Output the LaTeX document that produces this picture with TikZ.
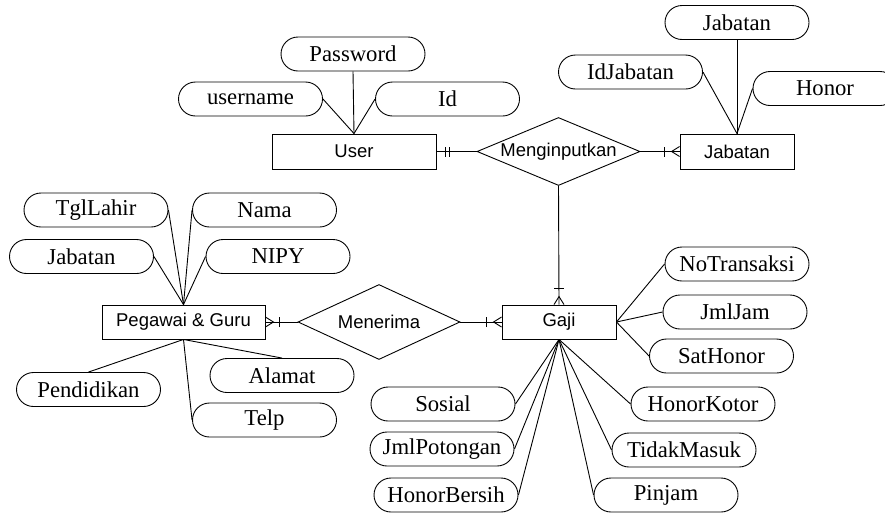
\documentclass[tikz,border=0pt]{standalone}
\usepackage{fontspec}
\setmainfont{Liberation Serif}
\newfontfamily\arialfont{Liberation Sans}
\usetikzlibrary{shapes.geometric}
\begin{document}
\begin{tikzpicture}[x=1pt,y=-1pt,line width=0.9pt,
  ent/.style={draw, minimum width=#1, minimum height=34pt, inner sep=0pt,
    font=\arialfont\fontsize{18.5}{20}\selectfont},
  attr/.style={draw, rounded corners=17pt, minimum width=144pt, minimum height=34pt,
    inner sep=0pt, font=\fontsize{22.7}{24}\selectfont},
  rel/.style={draw, diamond, inner sep=0pt, font=\arialfont\fontsize{18.5}{20}\selectfont},
  mk/.style={line width=0.9pt}]
\useasboundingbox (0,0) rectangle (885,512);
\clip (0,0) rectangle (885,512);
% entities
\node[ent=164pt, minimum height=35pt] (user) at (354,151.5) {User};
\node[ent=114pt, minimum height=35pt] (jabE) at (737,151.5) {Jabatan};
\node[ent=163pt] (peg) at (183.5,322) {Pegawai \& Guru};
\node[ent=114pt] (gaji) at (559,322) {Gaji};
% relationships
\node[rel, aspect=2.4, minimum width=163pt, minimum height=68pt] (mi) at (558.5,151.5) {Menginputkan};
\node[rel, aspect=2.16, minimum width=162pt, minimum height=75pt] (men) at (379,322) {Menerima};
% attributes
\node[attr] (pass) at (353,54) {Password};
\node[attr] (uname) at (250.5,99) {username};
\node[attr] (id) at (447.5,99) {Id};
\node[attr] (jabA) at (737,22.5) {Jabatan};
\node[attr] (idjab) at (630.5,72) {IdJabatan};
\node[attr] (honor) at (825,88.5) {Honor};
\node[attr] (tgl) at (96,210) {TglLahir};
\node[attr] (nama) at (264.5,210) {Nama};
\node[attr] (jab2) at (81.5,256.5) {Jabatan};
\node[attr] (nipy) at (278,256.5) {NIPY};
\node[attr] (pend) at (88.5,389.5) {Pendidikan};
\node[attr] (alamat) at (282,375.5) {Alamat};
\node[attr] (telp) at (264.5,420) {Telp};
\node[attr] (notr) at (737,264) {NoTransaksi};
\node[attr] (jmljam) at (735,312) {JmlJam};
\node[attr] (sathon) at (721.5,356) {SatHonor};
\node[attr] (hkotor) at (703,404) {HonorKotor};
\node[attr] (sosial) at (443,404) {Sosial};
\node[attr] (jmlpot) at (442,449) {JmlPotongan};
\node[attr] (hbersih) at (446,495) {HonorBersih};
\node[attr] (tidak) at (684,450) {TidakMasuk};
\node[attr] (pinjam) at (666,495) {Pinjam};
% attribute links
\draw (uname.east) -- (user.north);
\draw (pass.south) -- (user.north);
\draw (id.west) -- (user.north);
\draw (idjab.east) -- (jabE.north);
\draw (jabA.south) -- (jabE.north);
\draw (honor.west) -- (jabE.north);
\draw (tgl.east) -- (peg.north);
\draw (nama.west) -- (peg.north);
\draw (jab2.east) -- (peg.north);
\draw (nipy.west) -- (peg.north);
\draw (peg.south) -- (pend.north);
\draw (peg.south) -- (alamat.north);
\draw (peg.south) -- (telp.west);
\draw (gaji.east) -- (notr.west);
\draw (gaji.east) -- (jmljam.west);
\draw (gaji.east) -- (sathon.west);
\draw (gaji.south) -- (sosial.east);
\draw (gaji.south) -- (jmlpot.east);
\draw (gaji.south) -- (hbersih.east);
\draw (gaji.south) -- (hkotor.west);
\draw (gaji.south) -- (tidak.west);
\draw (gaji.south) -- (pinjam.west);
% relationship links
\draw (user.east) -- (mi.west);
\draw (mi.east) -- (jabE.west);
\draw (mi.south) -- (gaji.north);
\draw (peg.east) -- (men.west);
\draw (men.east) -- (gaji.west);
% cardinality marks
% User: mandatory one
\draw[mk] ([xshift=9pt,yshift=-5pt]user.east) -- ([xshift=9pt,yshift=5pt]user.east);
\draw[mk] ([xshift=13pt,yshift=-5pt]user.east) -- ([xshift=13pt,yshift=5pt]user.east);
% Jabatan entity: one or many
\draw[mk] ([xshift=-15pt,yshift=-5pt]jabE.west) -- ([xshift=-15pt,yshift=5pt]jabE.west);
\draw[mk] ([yshift=5pt]jabE.west) -- ([xshift=-8pt]jabE.west) -- ([yshift=-5pt]jabE.west);
% Gaji top
\draw[mk] ([xshift=-5pt,yshift=16pt]gaji.north) -- ([xshift=5pt,yshift=16pt]gaji.north);
\draw[mk] ([xshift=-5pt]gaji.north) -- ([yshift=8pt]gaji.north) -- ([xshift=5pt]gaji.north);
% Gaji left
\draw[mk] ([xshift=-15pt,yshift=-5pt]gaji.west) -- ([xshift=-15pt,yshift=5pt]gaji.west);
\draw[mk] ([yshift=5pt]gaji.west) -- ([xshift=-8pt]gaji.west) -- ([yshift=-5pt]gaji.west);
% Pegawai right
\draw[mk] ([xshift=14pt,yshift=-5pt]peg.east) -- ([xshift=14pt,yshift=5pt]peg.east);
\draw[mk] ([yshift=5pt]peg.east) -- ([xshift=8pt]peg.east) -- ([yshift=-5pt]peg.east);
\end{tikzpicture}
\end{document}
